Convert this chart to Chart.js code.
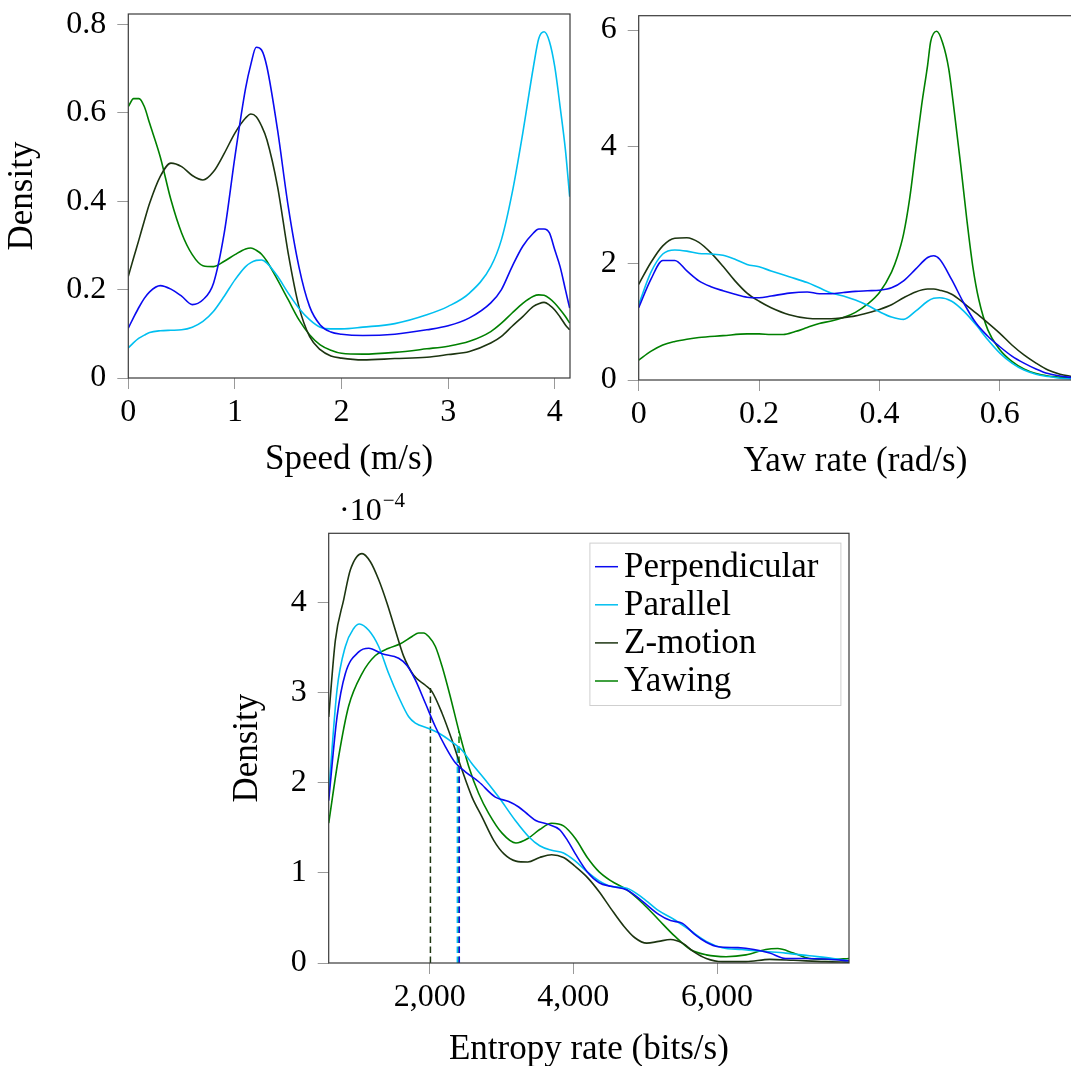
<!DOCTYPE html>
<html>
<head>
<meta charset="utf-8">
<script src="https://cdn.jsdelivr.net/npm/chart.js@4.4.1/dist/chart.umd.min.js"></script>
<style>
  html, body { margin: 0; padding: 0; background: #fff; overflow: hidden; width: 1071px; height: 1066px; }
  .box { position: absolute; }
</style>
</head>
<body>
<div class="box" style="left:0;top:0;width:600px;height:490px"><canvas id="speed"></canvas></div>
<div class="box" style="left:600px;top:0;width:480px;height:490px"><canvas id="yaw"></canvas></div>
<div class="box" style="left:230px;top:490px;width:650px;height:576px"><canvas id="entropy"></canvas></div>
<script>
// ---- speed (m/s) densities ----
const speedX    = [0, 0.05, 0.1, 0.15, 0.2, 0.3, 0.4, 0.5, 0.6, 0.7, 0.8, 0.9, 1.0, 1.1, 1.15, 1.2, 1.25, 1.3, 1.4, 1.5, 1.6, 1.7, 1.8, 1.9, 2.0, 2.2, 2.5, 2.8, 3.0, 3.2, 3.4, 3.5, 3.6, 3.7, 3.8, 3.85, 3.9, 3.95, 4.0, 4.05, 4.1, 4.14];
const speedPerp = [0.113, 0.137, 0.16, 0.18, 0.195, 0.209, 0.201, 0.185, 0.166, 0.177, 0.215, 0.328, 0.50, 0.655, 0.71, 0.748, 0.742, 0.704, 0.561, 0.388, 0.252, 0.162, 0.12, 0.104, 0.099, 0.096, 0.099, 0.109, 0.118, 0.136, 0.17, 0.2, 0.252, 0.298, 0.328, 0.337, 0.337, 0.328, 0.29, 0.252, 0.20, 0.158];
const speedPar  = [0.068, 0.08, 0.09, 0.097, 0.103, 0.107, 0.108, 0.109, 0.115, 0.128, 0.151, 0.185, 0.222, 0.252, 0.261, 0.266, 0.267, 0.26, 0.23, 0.192, 0.158, 0.132, 0.115, 0.111, 0.111, 0.115, 0.123, 0.143, 0.162, 0.192, 0.252, 0.313, 0.418, 0.554, 0.704, 0.768, 0.783, 0.761, 0.704, 0.614, 0.516, 0.41];
const speedZ    = [0.23, 0.272, 0.313, 0.355, 0.395, 0.456, 0.486, 0.478, 0.458, 0.448, 0.467, 0.508, 0.554, 0.588, 0.597, 0.591, 0.57, 0.539, 0.433, 0.282, 0.162, 0.094, 0.064, 0.05, 0.045, 0.041, 0.044, 0.047, 0.053, 0.06, 0.079, 0.094, 0.117, 0.139, 0.162, 0.168, 0.171, 0.165, 0.154, 0.138, 0.12, 0.109];
const speedYaw  = [0.614, 0.632, 0.632, 0.614, 0.576, 0.5, 0.403, 0.328, 0.279, 0.254, 0.252, 0.264, 0.279, 0.292, 0.294, 0.289, 0.28, 0.264, 0.222, 0.177, 0.132, 0.098, 0.075, 0.063, 0.056, 0.054, 0.058, 0.066, 0.072, 0.083, 0.105, 0.124, 0.147, 0.169, 0.185, 0.188, 0.187, 0.18, 0.169, 0.155, 0.139, 0.124];
const speedXTicks = [0, 1, 2, 3, 4];
const speedYTicks = [0, 0.2, 0.4, 0.6, 0.8];

// ---- yaw rate (rad/s) densities ----
const yawX    = [0, 0.02, 0.04, 0.06, 0.08, 0.1, 0.12, 0.14, 0.16, 0.18, 0.2, 0.22, 0.25, 0.28, 0.3, 0.32, 0.34, 0.36, 0.38, 0.4, 0.42, 0.44, 0.46, 0.48, 0.49, 0.5, 0.52, 0.54, 0.56, 0.58, 0.6, 0.62, 0.64, 0.66, 0.68, 0.7, 0.72];
const yawPerp = [1.24, 1.72, 2.05, 2.05, 1.87, 1.70, 1.60, 1.53, 1.47, 1.42, 1.41, 1.44, 1.49, 1.51, 1.48, 1.48, 1.50, 1.52, 1.53, 1.54, 1.58, 1.70, 1.90, 2.10, 2.13, 2.07, 1.72, 1.32, 0.98, 0.75, 0.57, 0.41, 0.29, 0.19, 0.11, 0.07, 0.04];
const yawPar  = [1.29, 1.84, 2.16, 2.23, 2.21, 2.17, 2.16, 2.14, 2.07, 1.98, 1.94, 1.87, 1.77, 1.67, 1.58, 1.49, 1.44, 1.37, 1.28, 1.17, 1.08, 1.04, 1.18, 1.35, 1.40, 1.41, 1.35, 1.18, 0.95, 0.69, 0.46, 0.29, 0.17, 0.10, 0.06, 0.03, 0.02];
const yawZ    = [1.64, 2.01, 2.30, 2.43, 2.44, 2.36, 2.18, 1.95, 1.70, 1.49, 1.35, 1.24, 1.12, 1.06, 1.05, 1.05, 1.07, 1.10, 1.15, 1.21, 1.29, 1.41, 1.51, 1.56, 1.56, 1.54, 1.47, 1.32, 1.15, 0.98, 0.80, 0.60, 0.43, 0.29, 0.17, 0.10, 0.06];
const yawXYaw = [0, 0.02, 0.04, 0.06, 0.08, 0.1, 0.14, 0.18, 0.2, 0.22, 0.24, 0.26, 0.28, 0.3, 0.32, 0.34, 0.36, 0.38, 0.4, 0.42, 0.43, 0.44, 0.45, 0.46, 0.47, 0.48, 0.485, 0.495, 0.505, 0.515, 0.525, 0.535, 0.545, 0.555, 0.565, 0.58, 0.6, 0.62, 0.64, 0.66, 0.68, 0.7, 0.72];
const yawYaw  = [0.34, 0.49, 0.60, 0.66, 0.70, 0.73, 0.76, 0.79, 0.79, 0.78, 0.78, 0.83, 0.90, 0.97, 1.01, 1.07, 1.16, 1.30, 1.50, 1.85, 2.12, 2.50, 3.10, 3.91, 4.71, 5.40, 5.80, 5.98, 5.78, 5.34, 4.54, 3.68, 2.76, 1.95, 1.38, 0.86, 0.52, 0.32, 0.19, 0.11, 0.07, 0.05, 0.03];
const yawXTicks = [0, 0.2, 0.4, 0.6];
const yawYTicks = [0, 2, 4, 6];

// ---- entropy rate (bits/s) densities, in units of 1e-4 ----
const entPerpX = [594, 710, 826, 1012, 1151, 1336, 1568, 1684, 1800, 1940, 2079, 2218, 2357, 2496, 2682, 2914, 3100, 3239, 3378, 3476, 3642, 3807, 3918, 4028, 4194, 4359, 4525, 4746, 4967, 5187, 5353, 5519, 5684, 5850, 6016, 6292, 6513, 6733, 6954, 7230, 7506, 7837];
const entPerp  = [1.80, 2.73, 3.21, 3.45, 3.49, 3.43, 3.38, 3.30, 3.14, 2.88, 2.62, 2.40, 2.22, 2.12, 2.01, 1.84, 1.79, 1.73, 1.64, 1.58, 1.54, 1.48, 1.36, 1.21, 1.01, 0.89, 0.85, 0.81, 0.68, 0.54, 0.47, 0.44, 0.32, 0.23, 0.18, 0.17, 0.15, 0.11, 0.05, 0.05, 0.045, 0.025];
const entParX  = [594, 710, 826, 942, 1021, 1151, 1290, 1429, 1568, 1708, 1800, 1986, 2125, 2311, 2450, 2589, 2775, 2960, 3192, 3378, 3531, 3697, 3863, 4028, 4194, 4359, 4525, 4746, 4967, 5187, 5408, 5629, 5850, 6071, 6347, 6623, 6954, 7285, 7616, 7837];
const entPar   = [1.88, 3.03, 3.51, 3.71, 3.76, 3.69, 3.51, 3.21, 2.95, 2.73, 2.66, 2.60, 2.55, 2.45, 2.36, 2.21, 2.03, 1.84, 1.58, 1.40, 1.30, 1.25, 1.22, 1.13, 1.01, 0.91, 0.85, 0.83, 0.72, 0.58, 0.48, 0.36, 0.24, 0.17, 0.15, 0.13, 0.11, 0.08, 0.05, 0.025];
const entZX    = [594, 687, 803, 896, 1058, 1174, 1290, 1406, 1522, 1638, 1777, 1940, 2032, 2172, 2311, 2450, 2589, 2728, 2891, 3034, 3200, 3366, 3531, 3697, 3863, 4028, 4194, 4359, 4525, 4691, 4856, 5022, 5187, 5353, 5519, 5684, 5850, 6071, 6402, 6733, 7064, 7506, 7837];
const entZ     = [2.73, 3.58, 4.03, 4.36, 4.54, 4.45, 4.25, 3.99, 3.69, 3.40, 3.19, 3.08, 3.01, 2.77, 2.47, 2.14, 1.84, 1.62, 1.36, 1.21, 1.13, 1.12, 1.17, 1.20, 1.17, 1.07, 0.95, 0.79, 0.60, 0.42, 0.28, 0.22, 0.24, 0.26, 0.22, 0.12, 0.05, 0.015, 0.015, 0.04, 0.03, 0.015, 0.01];
const entYawX  = [594, 733, 872, 1058, 1244, 1429, 1592, 1754, 1847, 1916, 1986, 2079, 2172, 2288, 2404, 2543, 2682, 2821, 3007, 3200, 3366, 3531, 3697, 3863, 4028, 4194, 4359, 4525, 4746, 4967, 5187, 5408, 5629, 5850, 6126, 6402, 6678, 6844, 7064, 7285, 7616, 7837];
const entYaw   = [1.55, 2.29, 2.85, 3.21, 3.41, 3.49, 3.54, 3.62, 3.66, 3.66, 3.62, 3.51, 3.29, 2.95, 2.58, 2.18, 1.88, 1.66, 1.44, 1.33, 1.38, 1.48, 1.55, 1.52, 1.38, 1.17, 1.01, 0.91, 0.81, 0.66, 0.48, 0.30, 0.15, 0.09, 0.07, 0.09, 0.15, 0.16, 0.11, 0.05, 0.04, 0.05];
// dashed marker lines: perpendicular, parallel, z-motion, yawing
const entMarkX   = [2412, 2385, 2010, 2408];
const entMarkTop = [2.17, 2.41, 3.05, 2.57];
const entXTicks = [2000, 4000, 6000];
const entYTicks = [0, 1, 2, 3, 4];

const names  = ['Perpendicular', 'Parallel', 'Z-motion', 'Yawing'];
const colors = ['#0a0af0', '#00bff0', '#1d3511', '#008000'];

Chart.defaults.font.family = "'Liberation Serif', 'Times New Roman', serif";
Chart.defaults.color = '#000';
Chart.defaults.animation = false;

function pts(xs, ys) {
    return xs.map((x, i) => ({ x: x, y: ys[i] }));
}

function curve(i, xs, ys) {
    return {
        label: names[i],
        data: pts(xs, ys),
        borderColor: colors[i],
        borderWidth: 1.6,
        pointRadius: 0,
        cubicInterpolationMode: 'monotone',
        fill: false
    };
}

function axis(horizontal, min, max, ticks, size, fmt, title, titlePad) {
    return {
        type: 'linear',
        min: min,
        max: max,
        afterBuildTicks: function (s) { s.ticks = ticks.map(v => ({ value: v })); },
        afterFit: function (s) {
            if (horizontal) s.height = size; else s.width = size;
            s.paddingTop = 0; s.paddingBottom = 0; s.paddingLeft = 0; s.paddingRight = 0;
        },
        grid: { drawOnChartArea: false, drawTicks: true, tickLength: 11, color: '#9a9a9a', lineWidth: 1 },
        border: { display: false },
        ticks: { font: { size: 32 }, padding: horizontal ? 4 : 11, color: '#000', callback: fmt, maxRotation: 0, autoSkip: false },
        title: {
            display: !!title,
            text: title,
            color: '#000',
            font: { size: 35, lineHeight: 1 },
            padding: { top: horizontal ? 0 : titlePad, bottom: horizontal ? titlePad : 0 }
        }
    };
}

const frame = {
    id: 'frame',
    afterDatasetsDraw(chart) {
        const { ctx, chartArea: a } = chart;
        ctx.save();
        ctx.strokeStyle = '#3a3a3a';
        ctx.lineWidth = 1.2;
        ctx.strokeRect(a.left, a.top, a.right - a.left, a.bottom - a.top);
        ctx.restore();
    }
};

const boxLegend = {
    id: 'boxLegend',
    afterDraw(chart, args, o) {
        if (!o.show) return;
        const ctx = chart.ctx;
        ctx.save();
        ctx.fillStyle = '#fff';
        ctx.fillRect(o.left, o.top, o.width, o.height);
        ctx.strokeStyle = '#cfcfcf';
        ctx.lineWidth = 1;
        ctx.strokeRect(o.left + 0.5, o.top + 0.5, o.width, o.height);
        ctx.font = "35px 'Liberation Serif'";
        ctx.textBaseline = 'alphabetic';
        chart.data.datasets.filter(d => !d.marker).forEach((d, i) => {
            const y = o.firstRow + i * o.rowStep;
            ctx.strokeStyle = d.borderColor;
            ctx.lineWidth = 1.5;
            ctx.beginPath();
            ctx.moveTo(o.sampleX, y);
            ctx.lineTo(o.sampleX + o.sampleLen, y);
            ctx.stroke();
            ctx.fillStyle = '#000';
            ctx.fillText(d.label, o.textX, y + 10);
        });
        ctx.restore();
    }
};

const exponent = {
    id: 'exponent',
    afterDraw(chart, args, o) {
        if (!o.show) return;
        const ctx = chart.ctx;
        ctx.save();
        ctx.fillStyle = '#000';
        ctx.textBaseline = 'alphabetic';
        ctx.font = "32px 'Liberation Serif'";
        ctx.fillText('\u00b710', o.x, o.y);
        const w = ctx.measureText('\u00b710').width;
        ctx.font = "21px 'Liberation Serif'";
        ctx.fillText('\u22124', o.x + w + 1, o.y - 13.5);
        ctx.restore();
    }
};

const plain = v => String(v);
const thousands = v => v.toLocaleString('en-US');

function basePlugins(extra) {
    return Object.assign({ legend: { display: false }, tooltip: { enabled: false } }, extra || {});
}

new Chart(document.getElementById('speed'), {
    type: 'line',
    data: {
        datasets: [
            curve(0, speedX, speedPerp),
            curve(1, speedX, speedPar),
            curve(2, speedX, speedZ),
            curve(3, speedX, speedYaw)
        ]
    },
    options: {
        responsive: true,
        maintainAspectRatio: false,
        events: [],
        layout: { padding: { top: 14, right: 30, left: 0, bottom: 0 } },
        plugins: basePlugins(),
        scales: {
            x: axis(true, 0, 4.143, speedXTicks, 112, plain, 'Speed (m/s)', 12.5),
            y: axis(false, 0, 0.8233, speedYTicks, 128.3, plain, 'Density', 5.5)
        }
    },
    plugins: [frame]
});

new Chart(document.getElementById('yaw'), {
    type: 'line',
    data: {
        datasets: [
            curve(0, yawX, yawPerp),
            curve(1, yawX, yawPar),
            curve(2, yawX, yawZ),
            curve(3, yawXYaw, yawYaw)
        ]
    },
    options: {
        responsive: true,
        maintainAspectRatio: false,
        events: [],
        layout: { padding: { top: 15.7, right: 7.9, left: 0, bottom: 0 } },
        plugins: basePlugins(),
        scales: {
            x: axis(true, 0, 0.72, yawXTicks, 110, plain, 'Yaw rate (rad/s)', 11),
            y: axis(false, 0, 6.246, yawYTicks, 38.7, plain, '', 0)
        }
    },
    plugins: [frame]
});

const marks = entMarkX.map((x, i) => ({
    label: names[i] + ' marker',
    marker: true,
    data: [{ x: x, y: 0 }, { x: x, y: entMarkTop[i] }],
    borderColor: colors[i],
    borderWidth: 1.5,
    borderDash: [6.5, 3.5],
    pointRadius: 0,
    fill: false
}));

new Chart(document.getElementById('entropy'), {
    type: 'line',
    data: {
        datasets: [
            curve(0, entPerpX, entPerp),
            curve(1, entParX, entPar),
            curve(2, entZX, entZ),
            curve(3, entYawX, entYaw)
        ].concat(marks)
    },
    options: {
        responsive: true,
        maintainAspectRatio: false,
        events: [],
        layout: { padding: { top: 43.3, right: 31, left: 0, bottom: 0 } },
        plugins: basePlugins({
            boxLegend: { show: true, left: 359.4, top: 52.6, width: 251, height: 162.4,
                         firstRow: 76.7, rowStep: 38.1, sampleX: 365, sampleLen: 23, textX: 394 },
            exponent: { show: true, x: 109, y: 30 }
        }),
        scales: {
            x: axis(true, 594, 7837, entXTicks, 103, thousands, 'Entropy rate (bits/s)', -1.5),
            y: axis(false, 0, 4.765, entYTicks, 98.7, plain, 'Density', 0.5)
        }
    },
    plugins: [frame, boxLegend, exponent]
});
</script>
</body>
</html>
